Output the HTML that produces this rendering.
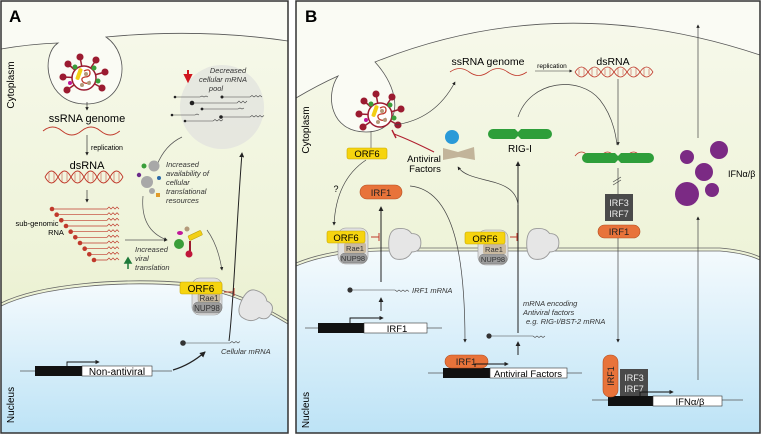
<!DOCTYPE html>
<html><head><meta charset="utf-8"><style>
html,body{margin:0;padding:0;background:#fff}
svg{display:block}
text{font-family:"Liberation Sans",sans-serif}
.it{font-style:italic;font-size:7.5px;fill:#333}
</style></head><body>
<svg width="763" height="435" viewBox="0 0 763 435" xmlns="http://www.w3.org/2000/svg">
<defs>
<linearGradient id="cyto" x1="0" y1="0" x2="0" y2="1">
<stop offset="0" stop-color="#f7f9ec"/><stop offset="0.6" stop-color="#eef3d8"/><stop offset="1" stop-color="#e4ecc4"/></linearGradient>
<linearGradient id="nuc" x1="0" y1="0" x2="0" y2="1">
<stop offset="0" stop-color="#f4fafd"/><stop offset="1" stop-color="#bde3f6"/></linearGradient>
<marker id="ar" viewBox="0 0 6 6" refX="5" refY="3" markerWidth="5" markerHeight="5" orient="auto"><path d="M0,0 L6,3 L0,6z" fill="#222"/></marker>
<g id="virus">
<g stroke="#9b1b30" stroke-width="1.5" fill="#9b1b30">
<line x1="0" y1="0" x2="-4" y2="-21"/><circle cx="-4" cy="-21" r="2.8"/>
<line x1="0" y1="0" x2="-16" y2="-14"/><circle cx="-16" cy="-14" r="2.8"/>
<line x1="0" y1="0" x2="12" y2="-18"/><circle cx="12" cy="-18" r="2.8"/>
<line x1="0" y1="0" x2="-21" y2="-1"/><circle cx="-21" cy="-1" r="2.8"/>
<line x1="0" y1="0" x2="21" y2="-6"/><circle cx="21" cy="-6" r="2.8"/>
<line x1="0" y1="0" x2="-17" y2="12"/><circle cx="-17" cy="12" r="2.8"/>
<line x1="0" y1="0" x2="18" y2="10"/><circle cx="18" cy="10" r="2.8"/>
</g>
<circle r="12" fill="#fff" stroke="#9b1b30" stroke-width="1.5"/>
<circle cx="-9" cy="-11" r="2.5" fill="#3a9e3a"/><circle cx="10" cy="-10" r="2.5" fill="#3a9e3a"/><circle cx="14" cy="3" r="2.5" fill="#3a9e3a"/><circle cx="-14" cy="5" r="2" fill="#c0169a"/>
<rect x="-8" y="-8" width="4" height="12" rx="1.5" fill="#f2cf15" transform="rotate(20)"/>
<path d="M0,-7 q6,-3 6,2 q0,4 -5,4 q-5,1 -2,5 q4,3 7,-1" fill="none" stroke="#c0392b" stroke-width="1.3"/>
<circle cx="2" cy="-4" r="2" fill="#b49a7a"/><circle cx="5" cy="5" r="2" fill="#b49a7a"/><circle cx="-2" cy="7" r="2" fill="#b49a7a"/>
</g>
<g id="pore"><path d="M4,0 Q14,-2 18,4 Q26,4 26,12 Q26,20 18,20 Q14,28 4,26 Q-2,24 -2,13 Q-2,2 4,0z" fill="#e6e6e6" stroke="#999" stroke-width="0.8" transform="scale(1.15)"/></g>
</defs>

<!-- PANEL A -->
<rect x="1" y="1" width="287" height="432" fill="url(#cyto)"/>
<path d="M1,1 H288 V41 Q200,28 106,37 C132,55 127,104 86,104 C45,104 40,55 58,43 Q30,44 1,49z" fill="#fafbf4"/>
<path d="M1,49 Q30,44 58,43 C40,55 45,104 86,104 C127,104 132,55 106,37 Q200,28 288,41" fill="none" stroke="#555" stroke-width="0.8"/>
<path d="M1,306 C40,287 120,280 190,286 C230,292 260,307 288,324 V433 H1z" fill="url(#nuc)"/>
<path d="M1,303 C40,284 120,277 190,283 C230,289 260,304 288,321" fill="none" stroke="#666" stroke-width="0.8"/>
<path d="M1,306 C40,287 120,280 190,286 C230,292 260,307 288,324" fill="none" stroke="#666" stroke-width="0.8"/>
<rect x="1" y="1" width="287" height="432" fill="none" stroke="#333" stroke-width="1.5"/>
<text x="9" y="22" font-size="17" font-weight="bold">A</text>
<text transform="translate(14,85) rotate(-90)" font-size="10" text-anchor="middle">Cytoplasm</text>
<text transform="translate(14,405) rotate(-90)" font-size="10" text-anchor="middle">Nucleus</text>
<use href="#virus" x="84" y="78"/>
<line x1="87" y1="102" x2="87" y2="110" stroke="#333" stroke-width="0.7" marker-end="url(#ar)"/>
<text x="87" y="122" font-size="11" text-anchor="middle">ssRNA genome</text>
<path d="M43,131 q9.6,-8 19.2,0 t19.2,0 t19.2,0 t19.2,0" fill="none" stroke="#c0392b" stroke-width="0.9"/>
<line x1="87" y1="135" x2="87" y2="155" stroke="#333" stroke-width="0.7" marker-end="url(#ar)"/>
<text x="91" y="150" font-size="7">replication</text>
<text x="87" y="169" font-size="11" text-anchor="middle">dsRNA</text>
<path d="M45,177 q6.5,-12 13,0 t13,0 t13,0 t13,0 t13,0 t13,0" fill="none" stroke="#c0392b" stroke-width="0.9"/>
<path d="M45,177 q6.5,12 13,0 t13,0 t13,0 t13,0 t13,0 t13,0" fill="none" stroke="#c0392b" stroke-width="0.9"/>
<path d="M49,173v8M54,172v10M62,172v10M67,173v8M75,173v8M80,172v10M88,172v10M93,173v8M101,173v8M106,172v10M114,172v10M119,173v8" stroke="#c0392b" stroke-width="0.5"/>
<line x1="87" y1="190" x2="87" y2="202" stroke="#333" stroke-width="0.7" marker-end="url(#ar)"/>
<g stroke="#c0392b" stroke-width="0.7" fill="none">
<path d="M52,209H107l2,-2 2,2 2,-2 2,2 2,-2 2,2"/><path d="M56.7,214.7H107l2,-2 2,2 2,-2 2,2 2,-2 2,2"/><path d="M61.3,220.3H107l2,-2 2,2 2,-2 2,2 2,-2 2,2"/><path d="M66,226H107l2,-2 2,2 2,-2 2,2 2,-2 2,2"/><path d="M70.7,231.7H107l2,-2 2,2 2,-2 2,2 2,-2 2,2"/><path d="M75.3,237.3H107l2,-2 2,2 2,-2 2,2 2,-2 2,2"/><path d="M80,243H107l2,-2 2,2 2,-2 2,2 2,-2 2,2"/><path d="M84.7,248.7H107l2,-2 2,2 2,-2 2,2 2,-2 2,2"/><path d="M89.3,254.3H107l2,-2 2,2 2,-2 2,2 2,-2 2,2"/><path d="M94,260H107l2,-2 2,2 2,-2 2,2 2,-2 2,2"/>
</g>
<g fill="#c0392b"><circle cx="52" cy="209" r="2.3"/><circle cx="56.7" cy="214.7" r="2.3"/><circle cx="61.3" cy="220.3" r="2.3"/><circle cx="66" cy="226" r="2.3"/><circle cx="70.7" cy="231.7" r="2.3"/><circle cx="75.3" cy="237.3" r="2.3"/><circle cx="80" cy="243" r="2.3"/><circle cx="84.7" cy="248.7" r="2.3"/><circle cx="89.3" cy="254.3" r="2.3"/><circle cx="94" cy="260" r="2.3"/></g>
<text x="37" y="226" font-size="7.5" text-anchor="middle">sub-genomic</text>
<text x="56" y="235" font-size="7.5" text-anchor="middle">RNA</text>
<line x1="125" y1="240" x2="167" y2="240" stroke="#555" stroke-width="0.7" marker-end="url(#ar)"/>
<path d="M128,269 V262 M125,263 L128,258 L131,263z" stroke="#1e7a3a" fill="#1e7a3a" stroke-width="1.5"/>
<text x="135" y="252" class="it">Increased</text><text x="135" y="261" class="it">viral</text><text x="135" y="270" class="it">translation</text>
<circle cx="222" cy="107" r="42" fill="#e2e3df" opacity="0.8"/>
<path d="M188,70 v6 M185,75 L188,81 L191,75z" stroke="#d0161e" fill="#d0161e" stroke-width="2"/>
<text x="228" y="73" class="it" text-anchor="middle">Decreased</text><text x="223" y="82" class="it" text-anchor="middle">cellular mRNA</text><text x="216" y="91" class="it" text-anchor="middle">pool</text>
<g stroke="#444" stroke-width="0.6" fill="none">
<path d="M175,97H200l2,-1 2,1 2,-1 2,1"/><path d="M222,97H250l2,-1.5 2,1.5 2,-1.5 2,1.5 2,-1.5 2,1.5"/><path d="M192,103H237l2,-2 2,2 2,-2 2,2 2,-2"/><path d="M202,109H238l2,-1 2,1 2,-1"/><path d="M172,115H195l2,-1 2,1"/><path d="M221,117H250l2,-1.5 2,1.5 2,-1.5 2,1.5 2,-1.5 2,1.5 2,-1.5"/><path d="M185,121H213l2,-1.5 2,1.5 2,-1.5 2,1.5 2,-1.5"/>
</g>
<g fill="#222"><circle cx="175" cy="97" r="1.3"/><circle cx="222" cy="97" r="1.5"/><circle cx="192" cy="103" r="2.3"/><circle cx="202" cy="109" r="1.4"/><circle cx="172" cy="115" r="1.3"/><circle cx="221" cy="117" r="1.8"/><circle cx="185" cy="121" r="1.3"/></g>
<path d="M157,165 Q165,145 182,137" fill="none" stroke="#555" stroke-width="0.7"/>
<g>
<circle cx="154" cy="166" r="5.5" fill="#a8a8a8"/><circle cx="147" cy="182" r="6" fill="#a8a8a8"/><circle cx="152" cy="191" r="3" fill="#a8a8a8"/>
<circle cx="144" cy="166" r="2.5" fill="#3a9e3a"/><circle cx="139" cy="175" r="2.2" fill="#6a2a8a"/><circle cx="159" cy="178" r="2" fill="#2a6aa8"/><rect x="156" y="193" width="4" height="4" fill="#e09a2a"/>
</g>
<text x="166" y="167" class="it">Increased</text><text x="166" y="176" class="it">availability of</text><text x="166" y="185" class="it">cellular</text><text x="166" y="194" class="it">translational</text><text x="166" y="203" class="it">resources</text>
<path d="M143,196 Q140,230 167,240" fill="none" stroke="#555" stroke-width="0.7" marker-end="url(#ar)"/>
<ellipse cx="180" cy="233" rx="3" ry="2" fill="#c0169a"/><circle cx="187" cy="229" r="2.5" fill="#b49a7a"/><rect x="188" y="233" width="14" height="5" rx="1" fill="#f2cf15" stroke="#b89a00" stroke-width="0.5" transform="rotate(-25 195 235)"/>
<circle cx="179" cy="244" r="5" fill="#3a9e3a"/><path d="M190,241 v10" stroke="#9b1b30" stroke-width="2"/><circle cx="189" cy="254" r="3.5" fill="#c0163a"/>
<path d="M207,230 Q218,245 222,270" fill="none" stroke="#555" stroke-width="0.7" marker-end="url(#ar)"/>
<rect x="192" y="278" width="30" height="37" rx="8" fill="#e0e0e0" stroke="#999" stroke-width="0.6"/>
<rect x="193" y="302" width="29" height="11" rx="5" fill="#9c9c9c" stroke="#777" stroke-width="0.5"/><text x="207" y="311" font-size="8" text-anchor="middle" fill="#333">NUP98</text>
<rect x="198" y="293" width="22" height="9" rx="2" fill="#c9b9a0" stroke="#998" stroke-width="0.5"/><text x="209" y="301" font-size="8" text-anchor="middle" fill="#333">Rae1</text>
<rect x="180" y="282" width="42" height="12" rx="2" fill="#f6d40f" stroke="#c8a800" stroke-width="0.6"/><text x="201" y="292" font-size="10" text-anchor="middle">ORF6</text>
<path d="M224,292 H234 M234,288 V296" stroke="#c0392b" stroke-width="1"/>
<use href="#pore" transform="translate(250,288) rotate(25)"/>
<line x1="183" y1="343" x2="230" y2="343" stroke="#444" stroke-width="0.6"/><path d="M230,343 l2,-1.5 2,1.5 2,-1.5 2,1.5 2,-1.5" fill="none" stroke="#444" stroke-width="0.6"/>
<circle cx="183" cy="343" r="2.8" fill="#333"/>
<text x="221" y="354" class="it">Cellular mRNA</text>
<path d="M229,341 C234,300 236,230 242,153" fill="none" stroke="#222" stroke-width="1" marker-end="url(#ar)"/>
<path d="M173,370 Q190,365 205,352" fill="none" stroke="#222" stroke-width="1.2" marker-end="url(#ar)"/>
<line x1="20" y1="371" x2="172" y2="371" stroke="#555" stroke-width="0.7"/>
<rect x="35" y="366" width="47" height="10" fill="#111"/><rect x="82" y="366" width="70" height="10" fill="#fff" stroke="#333" stroke-width="0.6"/>
<text x="117" y="375" font-size="10" text-anchor="middle">Non-antiviral</text>
<path d="M67,366 V362 H99" fill="none" stroke="#111" stroke-width="0.9" marker-end="url(#ar)"/>

<!-- PANEL B -->
<rect x="296" y="1" width="464" height="432" fill="url(#cyto)"/>
<path d="M296,1 H760 V55 Q560,-12 375,62 C405,95 400,132 366,132 C330,132 325,95 338,76 Q318,85 296,98z" fill="#fafbf4"/>
<path d="M296,98 Q318,85 338,76 C325,95 330,132 366,132 C400,132 405,95 375,62 Q560,-12 760,55" fill="none" stroke="#555" stroke-width="0.8"/>
<path d="M296,266 Q330,252 380,251 L720,251 Q745,253 760,260 V433 H296z" fill="url(#nuc)"/>
<path d="M296,263 Q330,249 380,248 L720,248 Q745,250 760,257" fill="none" stroke="#666" stroke-width="0.8"/>
<path d="M296,266 Q330,252 380,251 L720,251 Q745,253 760,260" fill="none" stroke="#666" stroke-width="0.8"/>
<rect x="296" y="1" width="464" height="432" fill="none" stroke="#333" stroke-width="1.5"/>
<text x="305" y="22" font-size="17" font-weight="bold">B</text>
<text transform="translate(309,130) rotate(-90)" font-size="10" text-anchor="middle">Cytoplasm</text>
<text transform="translate(309,410) rotate(-90)" font-size="10" text-anchor="middle">Nucleus</text>
<use href="#virus" x="380" y="115"/>
<path d="M394,125 Q435,120 455,82" fill="none" stroke="#444" stroke-width="0.7" marker-end="url(#ar)"/>
<text x="488" y="65" font-size="10.5" text-anchor="middle">ssRNA genome</text>
<path d="M450,72 q9.6,-7 19.2,0 t19.2,0 t19.2,0 t19.2,0" fill="none" stroke="#c0392b" stroke-width="0.8"/>
<text x="552" y="68" font-size="6.5" text-anchor="middle">replication</text>
<line x1="535" y1="71" x2="572" y2="71" stroke="#333" stroke-width="0.6" marker-end="url(#ar)"/>
<text x="613" y="65" font-size="10.5" text-anchor="middle">dsRNA</text>
<path d="M575,72 q6.5,-10 13,0 t13,0 t13,0 t13,0 t13,0 t13,0" fill="none" stroke="#c0392b" stroke-width="0.8"/>
<path d="M575,72 q6.5,10 13,0 t13,0 t13,0 t13,0 t13,0 t13,0" fill="none" stroke="#c0392b" stroke-width="0.8"/>
<path d="M579,69v6M584,68v8M592,68v8M597,69v6M605,69v6M610,68v8M618,68v8M623,69v6M631,69v6M636,68v8M644,68v8M649,69v6" stroke="#c0392b" stroke-width="0.5"/>
<line x1="618" y1="79" x2="618" y2="145" stroke="#444" stroke-width="0.7" marker-end="url(#ar)"/>
<path d="M518,117 C530,80 580,75 600,100 Q614,118 617,145" fill="none" stroke="#444" stroke-width="0.7"/>
<path d="M493,129 h22 l3,3 3,-3 h26 a5,5 0 0 1 0,10 h-26 l-3,-3 -3,3 h-22 a5,5 0 0 1 0,-10z" fill="#2e9e3a"/>
<text x="520" y="152" font-size="10" text-anchor="middle">RIG-I</text>
<path d="M575,156 q6.5,-8 13,0 t13,0 t13,0 t13,0 t13,0 t13,0" fill="none" stroke="#c0392b" stroke-width="0.8"/>
<path d="M587,153 h28 l3,3 3,-3 h28 a5,5 0 0 1 0,10 h-28 l-3,-3 -3,3 h-28 a5,5 0 0 1 0,-10z" fill="#2e9e3a"/>
<line x1="618" y1="168" x2="618" y2="194" stroke="#444" stroke-width="0.7"/>
<path d="M613,182 l8,-5 M613,185 l8,-5" stroke="#444" stroke-width="0.7"/>
<rect x="605" y="194" width="28" height="27" fill="#4a4a4a"/>
<text x="619" y="206" font-size="9" fill="#eee" text-anchor="middle">IRF3</text><text x="619" y="217" font-size="9" fill="#eee" text-anchor="middle">IRF7</text>
<rect x="598" y="225" width="42" height="13" rx="6.5" fill="#e8733a" stroke="#b34d1e" stroke-width="0.6"/><text x="619" y="235" font-size="9.5" text-anchor="middle" fill="#222">IRF1</text>
<line x1="618" y1="238" x2="618" y2="342" stroke="#444" stroke-width="0.7" marker-end="url(#ar)"/>
<line x1="698" y1="138" x2="698" y2="25" stroke="#444" stroke-width="0.7" marker-end="url(#ar)"/>
<line x1="698" y1="380" x2="698" y2="217" stroke="#444" stroke-width="0.7" marker-end="url(#ar)"/>
<g fill="#7b2a84"><circle cx="687" cy="157" r="7"/><circle cx="719" cy="150" r="9"/><circle cx="704" cy="172" r="9"/><circle cx="687" cy="194" r="12"/><circle cx="712" cy="190" r="7"/></g>
<text x="728" y="177" font-size="9">IFNα/β</text>
<line x1="371" y1="131" x2="371" y2="148" stroke="#444" stroke-width="0.6"/>
<rect x="347" y="148" width="40" height="11" rx="2" fill="#f6d40f" stroke="#c8a800" stroke-width="0.6"/><text x="367" y="157" font-size="9.5" text-anchor="middle">ORF6</text>
<text x="424" y="162" font-size="9.5" text-anchor="middle">Antiviral</text><text x="425" y="172" font-size="9.5" text-anchor="middle">Factors</text>
<circle cx="452" cy="137" r="7" fill="#2a9ad8"/>
<path d="M443,148 L458,152 L474,147 L475,160 L459,157 L443,160z" fill="#c2b49a"/>
<path d="M434,152 Q410,140 394,134" fill="none" stroke="#b02030" stroke-width="1.2"/><path d="M392,130 L396,138" stroke="#b02030" stroke-width="1.4"/>
<text x="336" y="192" font-size="9" text-anchor="middle">?</text>
<path d="M366,160 Q336,180 334,225" fill="none" stroke="#444" stroke-width="0.7" marker-end="url(#ar)"/>
<rect x="360" y="185" width="42" height="14" rx="7" fill="#e8733a" stroke="#b34d1e" stroke-width="0.6"/><text x="381" y="196" font-size="9.5" text-anchor="middle" fill="#222">IRF1</text>
<path d="M410,186 C455,190 465,260 465,342" fill="none" stroke="#444" stroke-width="0.7" marker-end="url(#ar)"/>
<line x1="381" y1="282" x2="381" y2="207" stroke="#222" stroke-width="1" marker-end="url(#ar)"/>
<rect x="338" y="228" width="30" height="36" rx="8" fill="#e0e0e0" stroke="#999" stroke-width="0.6"/>
<rect x="340" y="253" width="27" height="10" rx="5" fill="#9c9c9c" stroke="#777" stroke-width="0.5"/><text x="353" y="261" font-size="7.5" text-anchor="middle" fill="#333">NUP98</text>
<rect x="344" y="243" width="22" height="10" rx="2" fill="#c9b9a0"/><text x="355" y="251" font-size="7.5" text-anchor="middle" fill="#333">Rae1</text>
<rect x="327" y="231" width="38" height="12" rx="2" fill="#f6d40f" stroke="#c8a800" stroke-width="0.6"/><text x="346" y="241" font-size="9.5" text-anchor="middle">ORF6</text>
<path d="M371,237 H379 M379,233 V241" stroke="#c0392b" stroke-width="1"/>
<use href="#pore" x="391" y="229"/>
<rect x="478" y="230" width="30" height="35" rx="8" fill="#e0e0e0" stroke="#999" stroke-width="0.6"/>
<rect x="479" y="254" width="28" height="10" rx="5" fill="#9c9c9c" stroke="#777" stroke-width="0.5"/><text x="493" y="262" font-size="7.5" text-anchor="middle" fill="#333">NUP98</text>
<rect x="483" y="244" width="23" height="10" rx="2" fill="#c9b9a0"/><text x="494" y="252" font-size="7.5" text-anchor="middle" fill="#333">Rae1</text>
<rect x="465" y="232" width="40" height="12" rx="2" fill="#f6d40f" stroke="#c8a800" stroke-width="0.6"/><text x="485" y="242" font-size="9.5" text-anchor="middle">ORF6</text>
<path d="M510,237 H517 M517,233 V241" stroke="#c0392b" stroke-width="1"/>
<use href="#pore" x="529" y="229"/>
<line x1="518" y1="333" x2="518" y2="162" stroke="#222" stroke-width="1" marker-end="url(#ar)"/>
<path d="M518,205 C515,175 470,185 458,167" fill="none" stroke="#444" stroke-width="0.7" marker-end="url(#ar)"/>
<line x1="350" y1="290" x2="395" y2="290" stroke="#444" stroke-width="0.6"/><path d="M395,290 l2,1.5 2,-1.5 2,1.5 2,-1.5 2,1.5 2,-1.5 2,1.5" fill="none" stroke="#444" stroke-width="0.6"/>
<circle cx="350" cy="290" r="2.6" fill="#333"/>
<text x="412" y="293" class="it">IRF1 mRNA</text>
<line x1="381" y1="311" x2="381" y2="298" stroke="#222" stroke-width="1" marker-end="url(#ar)"/>
<line x1="305" y1="328" x2="442" y2="328" stroke="#555" stroke-width="0.7"/>
<rect x="318" y="323" width="46" height="10" fill="#111"/><rect x="364" y="323" width="63" height="10" fill="#fff" stroke="#333" stroke-width="0.6"/>
<text x="397" y="332" font-size="9.5" text-anchor="middle">IRF1</text>
<path d="M350,323 V318 H383" fill="none" stroke="#111" stroke-width="0.9" marker-end="url(#ar)"/>
<text x="523" y="306" class="it">mRNA encoding</text><text x="523" y="315" class="it">Antiviral factors</text><text x="526" y="324" class="it">e.g. RIG-I/BST-2 mRNA</text>
<line x1="489" y1="336" x2="533" y2="336" stroke="#444" stroke-width="0.6"/><path d="M533,336 l2,1.5 2,-1.5 2,1.5 2,-1.5 2,1.5 2,-1.5" fill="none" stroke="#444" stroke-width="0.6"/>
<circle cx="489" cy="336" r="2.6" fill="#333"/>
<line x1="518" y1="355" x2="518" y2="342" stroke="#222" stroke-width="1" marker-end="url(#ar)"/>
<line x1="428" y1="373" x2="582" y2="373" stroke="#555" stroke-width="0.7"/>
<rect x="443" y="368" width="47" height="10" fill="#111"/><rect x="490" y="368" width="77" height="10" fill="#fff" stroke="#333" stroke-width="0.6"/>
<text x="528" y="377" font-size="9.5" text-anchor="middle">Antiviral Factors</text>
<rect x="445" y="355" width="43" height="13" rx="6.5" fill="#e8733a" stroke="#b34d1e" stroke-width="0.6"/><text x="466" y="365" font-size="9.5" text-anchor="middle" fill="#222">IRF1</text>
<path d="M475,367 V364 H508" fill="none" stroke="#111" stroke-width="0.9" marker-end="url(#ar)"/>
<line x1="592" y1="400" x2="743" y2="400" stroke="#555" stroke-width="0.7"/>
<rect x="608" y="396" width="45" height="10" fill="#111"/><rect x="653" y="396" width="69" height="10" fill="#fff" stroke="#333" stroke-width="0.6"/>
<text x="690" y="405" font-size="9.5" text-anchor="middle">IFNα/β</text>
<rect x="603" y="355" width="15" height="42" rx="7" fill="#e8733a" stroke="#b34d1e" stroke-width="0.6"/>
<text transform="translate(614,376) rotate(-90)" font-size="9" text-anchor="middle" fill="#222">IRF1</text>
<rect x="620" y="369" width="28" height="27" fill="#4a4a4a"/>
<text x="634" y="381" font-size="9" fill="#eee" text-anchor="middle">IRF3</text><text x="634" y="392" font-size="9" fill="#eee" text-anchor="middle">IRF7</text>
<path d="M640,396 V392 H673" fill="none" stroke="#111" stroke-width="0.9" marker-end="url(#ar)"/>
</svg>
</body></html>
